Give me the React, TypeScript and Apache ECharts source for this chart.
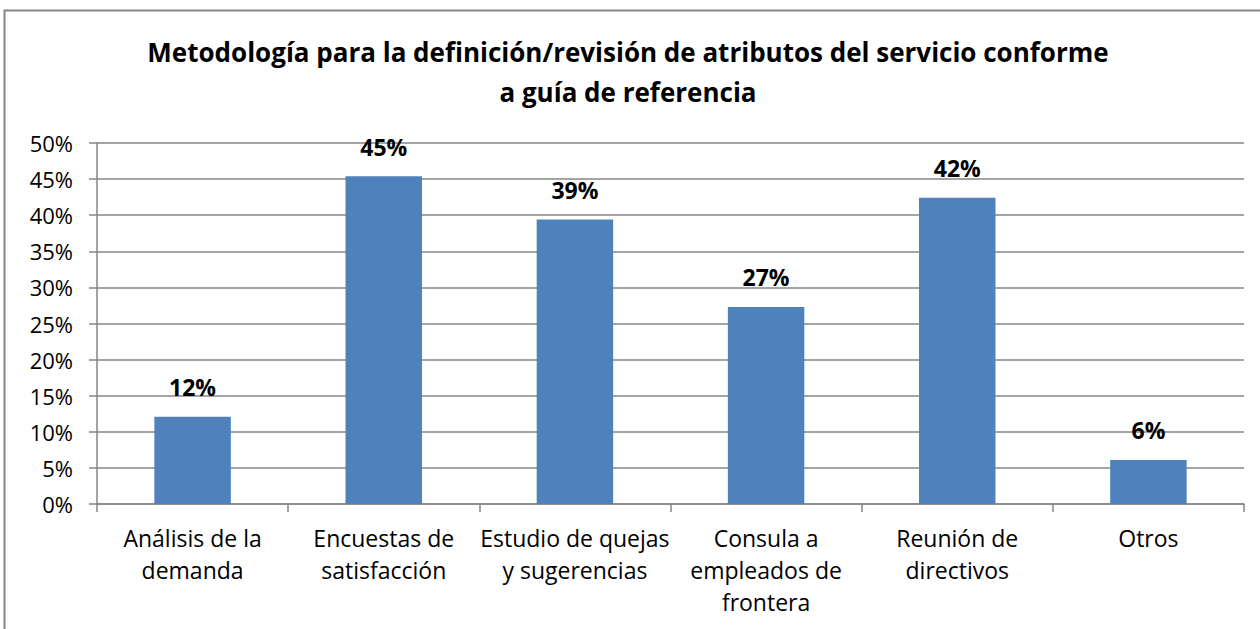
import React, { useEffect, useRef } from "react";
import * as echarts from "echarts";

const titleText = "Metodología para la definición/revisión de atributos del servicio conforme\na guía de referencia";
const categories = [
  "Análisis de la\ndemanda",
  "Encuestas de\nsatisfacción",
  "Estudio de quejas\ny sugerencias",
  "Consula a\nempleados de\nfrontera",
  "Reunión de\ndirectivos",
  "Otros",
];
const values = [12.1, 45.4, 39.4, 27.3, 42.4, 6.1];
const yMin = 0;
const yMax = 50;
const yInterval = 5;

const FONT = "'Open Sans', 'Noto Sans', sans-serif";

export default function App() {
  const ref = useRef<HTMLDivElement>(null);
  useEffect(() => {
    document.body.style.margin = "0";
    if (!ref.current) return;
    const chart = echarts.init(ref.current, null, { renderer: "svg" });
    chart.setOption({
      animation: false,
      backgroundColor: "#ffffff",
      textStyle: { fontFamily: FONT },
      title: {
        text: titleText,
        left: 623,
        textAlign: "center",
        top: 27,
        textStyle: {
          fontFamily: FONT,
          fontWeight: "bold",
          fontSize: 26,
          lineHeight: 40,
          color: "#000",
        },
      },
      graphic: [
        {
          type: "rect",
          shape: { x: 4.5, y: 10.5, width: 1300, height: 700 },
          style: { fill: "none", stroke: "#868686", lineWidth: 2 },
          silent: true,
          z: 100,
        },
      ],
      grid: { left: 97, right: 16, top: 143, bottom: 125, containLabel: false },
      xAxis: {
        type: "category",
        data: categories,
        axisLine: { lineStyle: { color: "#868686", width: 1.5 } },
        axisTick: { show: true, length: 8, lineStyle: { color: "#868686", width: 1.5 } },
        axisLabel: {
          interval: 0,
          margin: 18,
          fontSize: 23,
          lineHeight: 32,
          color: "#000",
          fontFamily: FONT,
        },
      },
      yAxis: {
        type: "value",
        min: yMin,
        max: yMax,
        interval: yInterval,
        axisLine: { show: true, lineStyle: { color: "#868686", width: 1.5 } },
        axisTick: { show: true, length: 8, lineStyle: { color: "#868686", width: 1.5 } },
        splitLine: { show: true, lineStyle: { color: "#868686", width: 1.5 } },
        axisLabel: {
          formatter: (v: number) => `${v}%`,
          fontSize: 22,
          margin: 24,
          color: "#000",
          fontFamily: FONT,
        },
      },
      series: [
        {
          type: "bar",
          data: values,
          barWidth: "40%",
          itemStyle: { color: "#4F81BD" },
          label: {
            show: true,
            position: "top",
            distance: 18,
            formatter: (p: any) => `${Math.round(p.value)}%`,
            fontSize: 23,
            fontWeight: "bold",
            color: "#000",
            fontFamily: FONT,
          },
        },
      ],
    });
    return () => chart.dispose();
  }, []);
  return (
    <div
      ref={ref}
      style={{ position: "fixed", left: 0, top: 0, width: 1260, height: 629 }}
    />
  );
}
